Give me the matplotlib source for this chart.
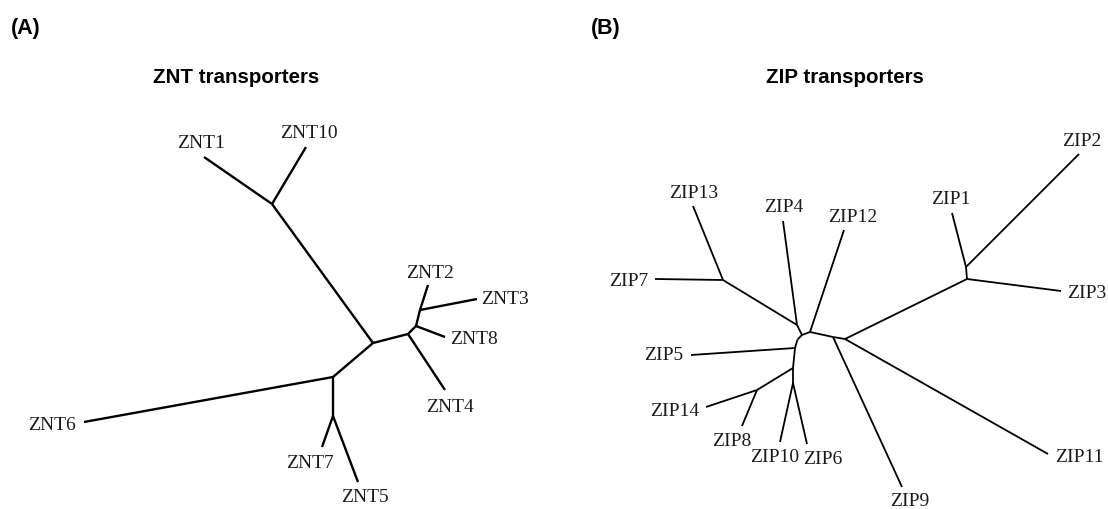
import matplotlib
matplotlib.use("Agg")
import matplotlib.pyplot as plt

# Tree layouts (pixel positions)
# ---------------------------------------------------
# ZNT tree: node name -> (x, y)
znt_nodes = {
    'ZNT1': (204, 157), 'ZNT10': (306, 147), 'a1': (272, 204),
    'c1': (373, 343), 'r1': (408, 334), 'ZNT4': (445, 390),
    'r2': (416, 326), 'ZNT8': (445, 337), 'r3': (420, 310),
    'ZNT2': (428, 285), 'ZNT3': (477, 299), 'l1': (333, 377),
    'ZNT6': (84, 422), 'l2': (333, 416), 'ZNT7': (322, 447),
    'ZNT5': (358, 482),
}
znt_edges = [
    ('a1', 'ZNT1'), ('a1', 'ZNT10'), ('a1', 'c1'), ('c1', 'r1'),
    ('r1', 'ZNT4'), ('r1', 'r2'), ('r2', 'ZNT8'), ('r2', 'r3'),
    ('r3', 'ZNT2'), ('r3', 'ZNT3'), ('c1', 'l1'), ('l1', 'ZNT6'),
    ('l1', 'l2'), ('l2', 'ZNT7'), ('l2', 'ZNT5'),
]
# label centres
znt_labels = {
    'ZNT1': (201, 142), 'ZNT10': (309, 132), 'ZNT2': (430, 273),
    'ZNT3': (505, 298), 'ZNT8': (474, 339), 'ZNT4': (450, 406),
    'ZNT6': (52, 424), 'ZNT7': (310, 463), 'ZNT5': (365, 496),
}

# ZIP tree
zip_nodes = {
    'ZIP13': (693, 206), 'ZIP7': (655, 279), 'b7': (723, 280),
    'ZIP4': (783, 221), 'n1': (797, 325), 'n2': (802, 335),
    'ZIP12': (844, 230), 'n3': (810, 332), 'n4': (833, 337),
    'n5': (845, 339), 'ZIP9': (902, 487), 'ZIP11': (1048, 454),
    'n6': (967, 279), 'n7': (966, 267), 'ZIP1': (952, 213),
    'ZIP2': (1079, 154), 'ZIP3': (1061, 291), 'n2b': (797.5, 339.5),
    'n8': (795, 348), 'ZIP5': (691, 355), 'n9': (793, 368),
    'n10': (757, 390), 'ZIP14': (706, 407), 'ZIP8': (742, 426),
    'n11': (793, 383), 'ZIP10': (780, 442), 'ZIP6': (807, 444),
}
zip_edges = [
    ('b7', 'ZIP13'), ('b7', 'ZIP7'), ('b7', 'n1'), ('n1', 'ZIP4'),
    ('n1', 'n2'), ('n2', 'n3'), ('n3', 'ZIP12'), ('n3', 'n4'),
    ('n4', 'ZIP9'), ('n4', 'n5'), ('n5', 'ZIP11'), ('n5', 'n6'),
    ('n6', 'ZIP3'), ('n6', 'n7'), ('n7', 'ZIP1'), ('n7', 'ZIP2'),
    ('n2', 'n2b'), ('n2b', 'n8'), ('n8', 'ZIP5'), ('n8', 'n9'),
    ('n9', 'n10'), ('n10', 'ZIP14'), ('n10', 'ZIP8'), ('n9', 'n11'),
    ('n11', 'ZIP10'), ('n11', 'ZIP6'),
]
zip_labels = {
    'ZIP13': (694, 192), 'ZIP4': (784, 207), 'ZIP12': (853, 216),
    'ZIP1': (951, 198), 'ZIP2': (1082, 140), 'ZIP3': (1087, 293),
    'ZIP7': (629, 280), 'ZIP5': (664, 355), 'ZIP14': (675, 410),
    'ZIP8': (732, 440), 'ZIP10': (775, 456), 'ZIP6': (823, 459),
    'ZIP9': (910, 500), 'ZIP11': (1079, 457),
}

# Create figure
# -------------
fig = plt.figure(figsize=(11.08, 5.09), dpi=100)
ax = fig.add_axes([0, 0, 1, 1])
ax.set_xlim(0, 1108)
ax.set_ylim(509, 0)
ax.axis('off')


def draw_tree(nodes, edges, labels, lw):
    for a, b in edges:
        (x0, y0), (x1, y1) = nodes[a], nodes[b]
        ax.plot([x0, x1], [y0, y1], color='black', lw=lw,
                solid_capstyle='butt', solid_joinstyle='round')
    for name, (x, y) in labels.items():
        ax.text(x, y + 1, name, ha='center', va='center', fontsize=14,
                family='Liberation Serif', color='#1a1a1a')


draw_tree(znt_nodes, znt_edges, znt_labels, 1.7)
draw_tree(zip_nodes, zip_edges, zip_labels, 1.3)

# Panel letters and titles
# ------------------------
for x, s in [(26, '(A)'), (606, '(B)')]:
    ax.text(x, 28, s, ha='center', va='center', fontsize=15.5,
            family='Liberation Sans', weight='bold')
ax.text(236, 77, 'ZNT transporters', ha='center', va='center',
        fontsize=14.8, family='Liberation Sans', weight='bold')
ax.text(845, 77, 'ZIP transporters', ha='center', va='center',
        fontsize=14.8, family='Liberation Sans', weight='bold')

fig.savefig('out.png', dpi=100)
